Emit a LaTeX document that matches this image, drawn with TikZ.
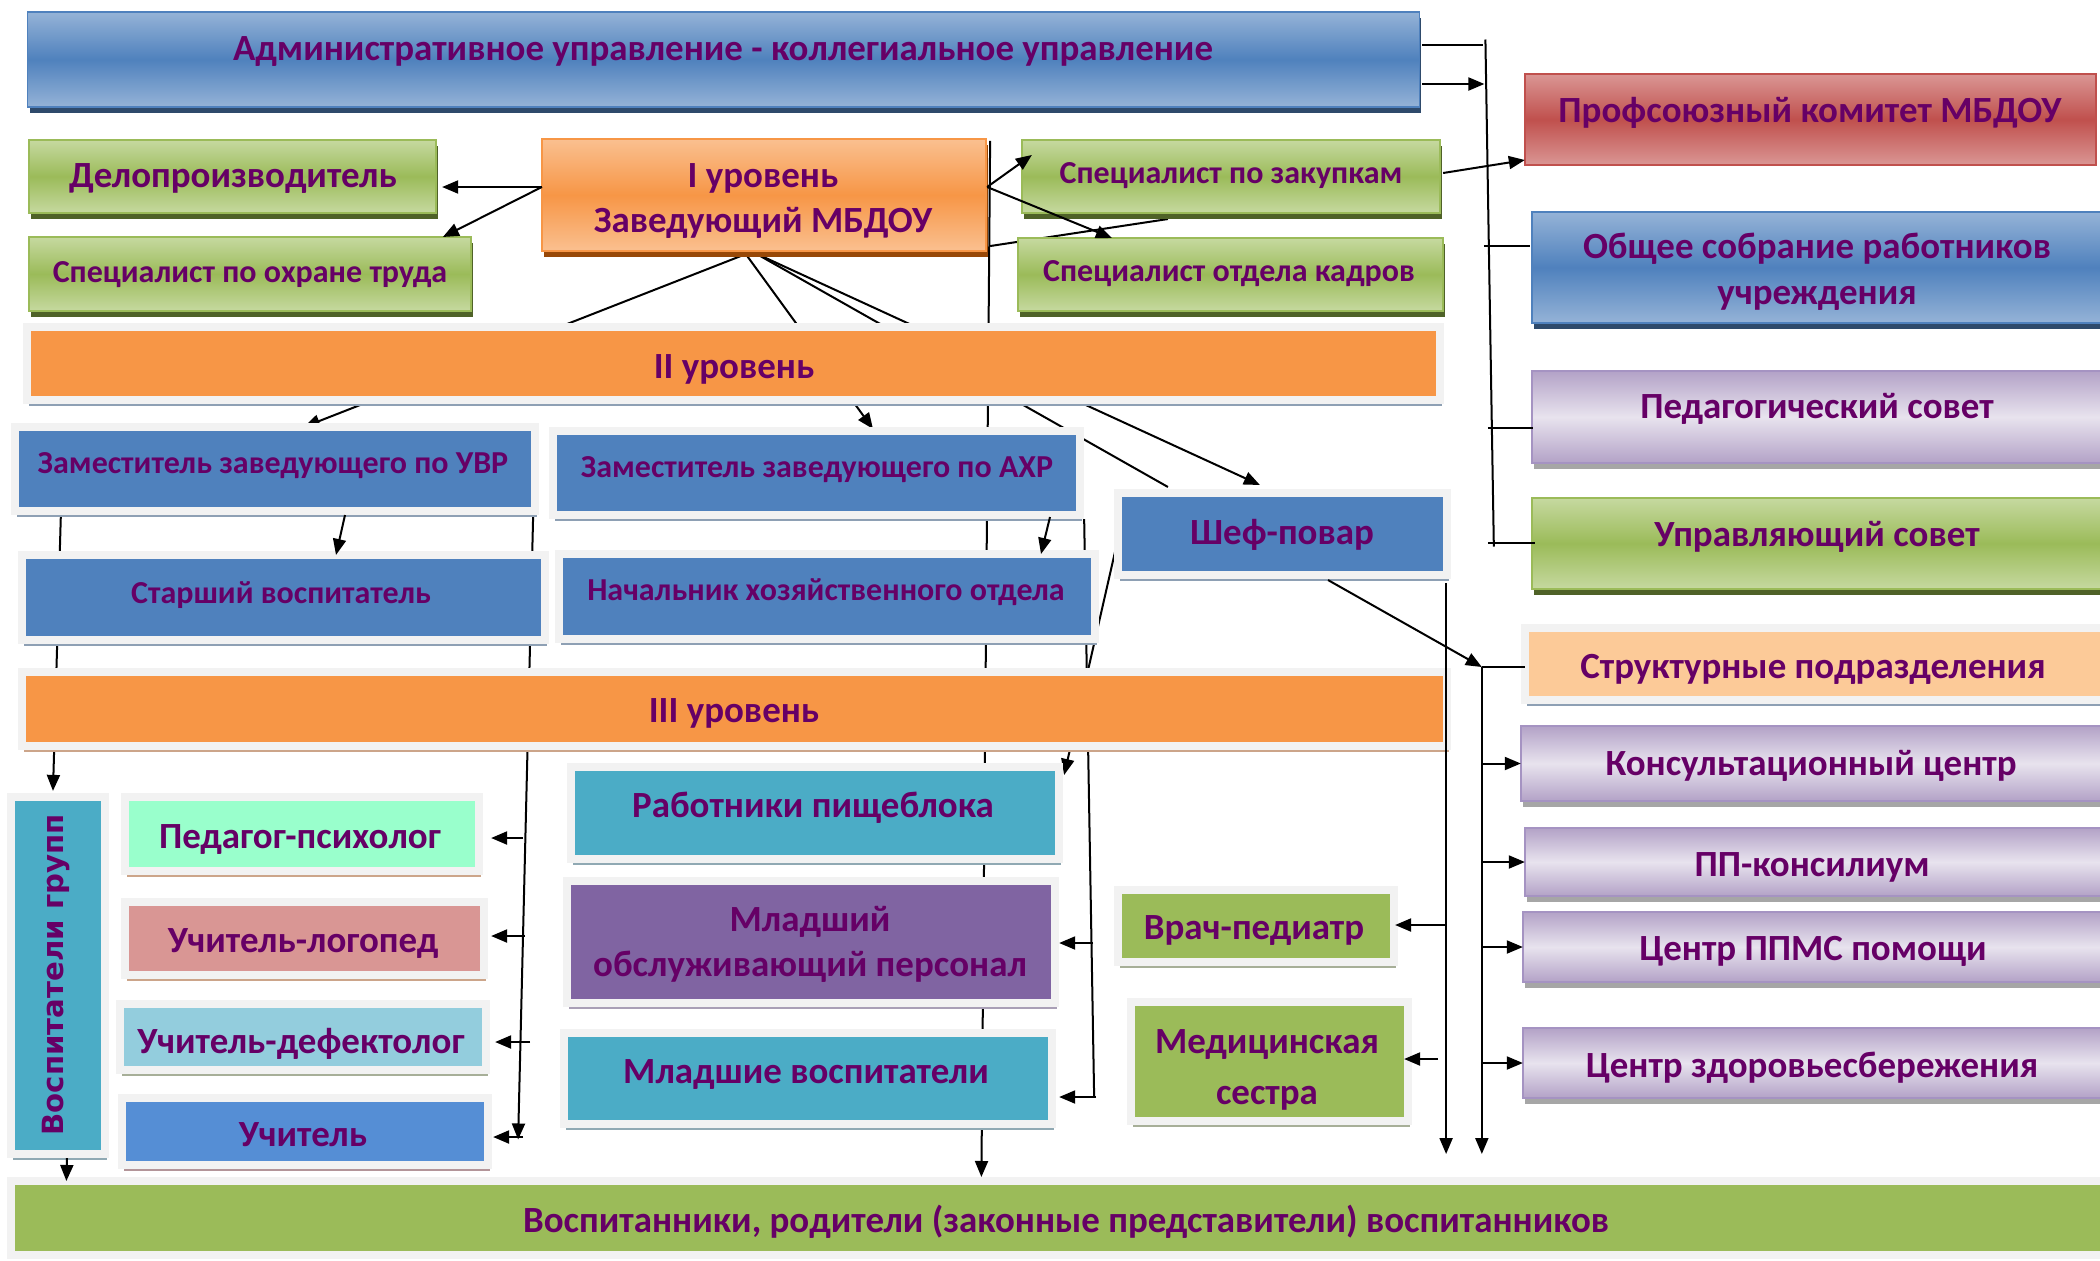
\documentclass[tikz,border=0pt]{standalone}
\usepackage{fontspec}
\setmainfont{Carlito}
\newfontfamily\vfont{DejaVu Sans}
\usetikzlibrary{calc,shadows,arrows.meta}
\definecolor{tc}{RGB}{102,0,102}
\definecolor{blueD}{HTML}{4F81BD}
\definecolor{blueL}{HTML}{95B3D7}
\definecolor{blueS}{HTML}{2E4A6B}
\definecolor{redD}{HTML}{C0504D}
\definecolor{redL}{HTML}{DA9694}
\definecolor{grnD}{HTML}{9BBB59}
\definecolor{grnL}{HTML}{C6D9A0}
\definecolor{grnS}{HTML}{4F6228}
\definecolor{orD}{HTML}{F79646}
\definecolor{orL}{HTML}{FAC090}
\definecolor{orS}{HTML}{984807}
\definecolor{purD}{HTML}{B3A2C7}
\definecolor{purL}{HTML}{E8E3EE}
\definecolor{purB}{HTML}{A593C2}
\definecolor{grayS}{HTML}{A6A6A6}
\definecolor{frm}{HTML}{F2F2F2}
\definecolor{shBlue}{HTML}{8EA0B4}
\definecolor{shBrown}{HTML}{CCA58A}
\definecolor{shTeal}{HTML}{90A9B3}
\definecolor{shOlive}{HTML}{A7AF98}
\definecolor{shMauve}{HTML}{B39599}
\definecolor{shViol}{HTML}{A99FB6}
\definecolor{tealF}{HTML}{4BACC6}
\definecolor{violF}{HTML}{8064A2}
\definecolor{mintF}{HTML}{99FFCC}
\definecolor{roseF}{HTML}{D99694}
\definecolor{lblueF}{HTML}{93CDDD}
\definecolor{mblueF}{HTML}{558ED5}
\definecolor{peachF}{HTML}{FCCA98}
\newcommand\fLg{\fontsize{10.5}{12.6}\selectfont\bfseries}
\newcommand\fSm{\fontsize{9.1}{11}\selectfont\bfseries}
\pgfdeclarelayer{paper}
\pgfdeclarelayer{bg}
\pgfsetlayers{paper,bg,main}
\tikzset{
  bx/.style={rectangle,inner sep=0pt,outer sep=0pt},
  gb/.style={bx,draw=#1,line width=0.015cm},
  fr/.style={bx,draw=frm,line width=0.08cm},
  shd/.style={drop shadow={shadow xshift=0.02cm,shadow yshift=-0.06cm,fill=#1,opacity=1}},
  vgrad/.style 2 args={top color=#1,bottom color=#1,middle color=#2},
  sz/.style 2 args={minimum width=#1cm,minimum height=#2cm},
  txt/.style={inner sep=0pt,outer sep=0pt,text=tc,anchor=mid,yshift=-0.04cm},
  arr/.style={line width=0.02cm,-{Triangle[length=0.16cm,width=0.13cm]}},
  ln/.style={line width=0.02cm},
}
\begin{document}
\begin{tikzpicture}[x=0.01cm,y=-0.01cm]
\useasboundingbox (0,0) rectangle (2100,1260);
\begin{pgfonlayer}{paper}
\fill[white] (0,0) rectangle (2100,1260);
\end{pgfonlayer}
% ---------- gradient boxes
\node[gb=blueD,vgrad={blueL}{blueD},shd=blueS,sz={13.91}{0.95}] (admin) at (723.5,59.5) {};
\node[gb=redD,vgrad={redL}{redD},sz={5.71}{0.91}] (prof) at (1810.5,119.5) {};
\node[gb=blueD,vgrad={blueL}{blueD},shd=blueS,sz={5.78}{1.11}] (obsh) at (1821,267.5) {};
\node[gb=purB,vgrad={purD}{purL},shd=grayS,sz={5.78}{0.92}] (ped) at (1821,417) {};
\node[gb=grnD,vgrad={grnL}{grnD},shd=grnS,sz={5.78}{0.91}] (upr) at (1821,543.5) {};
\node[gb=grnD,vgrad={grnL}{grnD},shd=grnS,sz={4.07}{0.73}] (delo) at (232.5,176.5) {};
\node[gb=grnD,vgrad={grnL}{grnD},shd=grnS,sz={4.42}{0.74}] (ohr) at (250,274) {};
\node[gb=orD,vgrad={orL}{orD},shd=orS,sz={4.44}{1.12}] (zav) at (764,195) {};
\node[gb=grnD,vgrad={grnL}{grnD},shd=grnS,sz={4.18}{0.73}] (zak) at (1231,176.5) {};
\node[gb=grnD,vgrad={grnL}{grnD},shd=grnS,sz={4.25}{0.73}] (kadr) at (1230.5,274.5) {};
\node[gb=purB,vgrad={purD}{purL},shd=grayS,sz={5.89}{0.75}] (kons) at (1815.5,763.5) {};
\node[gb=purB,vgrad={purD}{purL},shd=grayS,sz={5.85}{0.68}] (pp) at (1817.5,862) {};
\node[gb=purB,vgrad={purD}{purL},shd=grayS,sz={5.87}{0.70}] (ppms) at (1816.5,947) {};
\node[gb=purB,vgrad={purD}{purL},shd=grayS,sz={5.87}{0.70}] (zdor) at (1816.5,1063) {};
% ---------- framed boxes
\node[fr,fill=orD,shd=shBlue,sz={14.13}{0.73}] (lvl2) at (733.5,363.5) {};
\node[fr,fill=blueD,shd=shBlue,sz={5.20}{0.84}] (uvr) at (275,469) {};
\node[fr,fill=blueD,shd=shBlue,sz={5.27}{0.84}] (ahr) at (816.5,473) {};
\node[fr,fill=blueD,shd=shBlue,sz={3.29}{0.82}] (chef) at (1282.5,534) {};
\node[fr,fill=blueD,shd=shBlue,sz={5.23}{0.85}] (star) at (283.5,597.5) {};
\node[fr,fill=blueD,shd=shBlue,sz={5.36}{0.85}] (nach) at (827,596.5) {};
\node[fr,fill=orD,shd=shBrown,sz={14.25}{0.74}] (lvl3) at (734.5,709) {};
\node[fr,fill=peachF,shd=shBlue,sz={5.81}{0.72}] (strukt) at (1815.5,664) {};
\node[fr,fill=tealF,shd=shTeal,sz={0.94}{3.57}] (vosp) at (58,975.5) {};
\node[fr,fill=mintF,shd=shBrown,sz={3.54}{0.74}] (psy) at (302,834) {};
\node[fr,fill=roseF,shd=shBrown,sz={3.59}{0.73}] (log) at (304.5,938.5) {};
\node[fr,fill=lblueF,shd=shOlive,sz={3.66}{0.66}] (def) at (303,1037) {};
\node[fr,fill=mblueF,shd=shMauve,sz={3.66}{0.67}] (uch) at (305,1131.5) {};
\node[fr,fill=tealF,shd=shTeal,sz={4.88}{0.92}] (pish) at (815,813) {};
\node[fr,fill=violF,shd=shViol,sz={4.88}{1.22}] (mlob) at (811,942) {};
\node[fr,fill=tealF,shd=shTeal,sz={4.88}{0.91}] (mlv) at (808,1078.5) {};
\node[fr,fill=grnD,shd=shOlive,sz={2.76}{0.72}] (vrach) at (1256,926) {};
\node[fr,fill=grnD,shd=shOlive,sz={2.77}{1.19}] (med) at (1269.5,1061.5) {};
\node[fr,fill=grnD,sz={21.02}{0.74}] (vospit) at (1063,1218) {};
% ---------- texts
\node[txt,font=\fLg] (t1) at (723,48) {Административное управление - коллегиальное управление};
\node[txt,font=\fLg] (t2) at (1810,110) {Профсоюзный комитет МБДОУ};
\node[txt,font=\fLg] (t3a) at (1817,246) {Общее собрание работников};
\node[txt,font=\fLg] (t3b) at (1817,292) {учреждения};
\node[txt,font=\fLg] (t4) at (1817,406) {Педагогический совет};
\node[txt,font=\fLg] (t5) at (1817,534) {Управляющий совет};
\node[txt,font=\fLg] (t6) at (233,175) {Делопроизводитель};
\node[txt,font=\fSm] (t7) at (250,270) {Специалист по охране труда};
\node[txt,font=\fLg] (t8a) at (763,175) {I уровень};
\node[txt,font=\fLg] (t8b) at (763,220) {Заведующий МБДОУ};
\node[txt,font=\fSm] (t9) at (1231,171) {Специалист по закупкам};
\node[txt,font=\fSm] (t10) at (1229,269) {Специалист отдела кадров};
\node[txt,font=\fLg] (t11) at (734,366) {II уровень};
\node[txt,font=\fSm] (t12) at (273,461) {Заместитель заведующего по УВР};
\node[txt,font=\fSm] (t13) at (817,465) {Заместитель заведующего по АХР};
\node[txt,font=\fLg] (t14) at (1282,532) {Шеф-повар};
\node[txt,font=\fSm] (t15) at (281,591) {Старший воспитатель};
\node[txt,font=\fSm] (t16) at (826,588) {Начальник хозяйственного отдела};
\node[txt,font=\fLg] (t17) at (1813,666) {Структурные подразделения};
\node[txt,font=\fLg] (t18) at (734,710) {III уровень};
\node[txt,font=\fLg] (t19) at (1811,763) {Консультационный центр};
\node[txt,font=\fLg] (t20) at (813,805) {Работники пищеблока};
\node[txt,font=\fLg] (t21) at (300,836) {Педагог-психолог};
\node[txt,font=\fLg] (t22) at (1812,864) {ПП-консилиум};
\node[txt,font=\fLg] (t23a) at (810,919) {Младший};
\node[txt,font=\fLg] (t23b) at (810,964) {обслуживающий персонал};
\node[txt,font=\fLg] (t24) at (1254,927) {Врач-педиатр};
\node[txt,font=\fLg] (t25) at (303,940) {Учитель-логопед};
\node[txt,font=\fLg] (t26) at (1813,948) {Центр ППМС помощи};
\node[txt,font=\fLg] (t27a) at (1267,1041) {Медицинская};
\node[txt,font=\fLg] (t27b) at (1267,1092) {сестра};
\node[txt,font=\fLg] (t28) at (301,1041) {Учитель-дефектолог};
\node[txt,font=\fLg] (t29) at (1812,1065) {Центр здоровьесбережения};
\node[txt,font=\fLg] (t30) at (806,1071) {Младшие воспитатели};
\node[txt,font=\fLg] (t31) at (303,1134) {Учитель};
\node[txt,font=\fLg] (t32) at (1066,1220) {Воспитанники, родители (законные представители) воспитанников};
\node[inner sep=0pt,text=tc,font={\vfont\bfseries\fontsize{8.3}{9}\selectfont},rotate=90] (t33) at (56,975) {Воспитатели групп};
% ---------- coordinates
\coordinate (sj) at ($(strukt.west)+(-43,3)$);
\coordinate (sbot) at ($(sj)+(0,487)$);
\coordinate (vt) at ($(admin.east)+(66,-20)$);
\coordinate (vb) at ($(upr.west)+(-38,3)$);
% ---------- connectors behind boxes
\begin{pgfonlayer}{bg}
\draw[arr] ($(zav.north east)+(4,2)$) -- ($(vospit.north west)+(970,-4)$);
\draw[arr] ($(zav.south)+(-13,1)$) -- ($(uvr.north)+(29,0)$);
\draw[arr] ($(zav.south)+(-19,2)$) -- ($(ahr.north)+(56.5,-2)$);
\draw[ln] ($(zav.south)+(-9,2)$) -- ($(chef.north west)+(50,-6)$);
\draw[arr] ($(zav.south)+(-9,2)$) -- ($(chef.north west)+(142,-8)$);
\draw[arr] ($(uvr.south west)+(46,4)$) -- ($(vosp.north west)+(42,-6)$);
\draw[arr] ($(uvr.south east)+(-2,4)$) -- ($(uch.east)+(30,8)$);
\draw[ln] ($(ahr.south east)+(4,4)$) -- ($(mlv.east)+(42,18.5)$);
\draw[arr] ($(chef.west)+(3,-8)$) -- ($(pish.north east)+(5,8)$);
\draw[ln] ($(zav.south east)+(4,-5)$) -- ($(zak.south west)+(146,6)$);
\end{pgfonlayer}
% ---------- connectors on top
\draw[arr] ($(zav.west)+(0,-8)$) -- ($(delo.east)+(6,10.5)$);
\draw[arr] ($(zav.west)+(0,-8)$) -- ($(ohr.north west)+(414,0)$);
\draw[arr] ($(zav.east)+(1,-8)$) -- ($(zak.north west)+(10,15)$);
\draw[arr] ($(zav.east)+(1,-8)$) -- ($(kadr.north west)+(94,0)$);
\draw[arr] ($(uvr.south)+(70,4)$) -- ($(star.north)+(52.5,0)$);
\draw[arr] ($(ahr.south)+(233.5,2)$) -- ($(nach.north)+(214,0)$);
\draw[arr] ($(psy.east)+(44,4)$) -- ($(psy.east)+(12,4)$);
\draw[arr] ($(log.east)+(41,-2.5)$) -- ($(log.east)+(7,-2.5)$);
\draw[arr] ($(def.east)+(44,5)$) -- ($(def.east)+(9,5)$);
\draw[arr] ($(uch.east)+(35,5.5)$) -- ($(uch.east)+(5,5.5)$);
\draw[arr] ($(mlob.east)+(38,1)$) -- ($(mlob.east)+(4,1)$);
\draw[arr] ($(mlv.east)+(44,18.5)$) -- ($(mlv.east)+(7,18.5)$);
\draw[arr] ($(chef.south)+(45.5,5)$) -- (sj);
\draw[arr] (sj) -- (sbot);
\draw[ln] (sj) -- (sj -| strukt.west);
\draw[arr] (sj |- kons.west) -- (kons.west);
\draw[arr] (sj |- pp.west) -- (pp.west);
\draw[arr] (sj |- ppms.west) -- (ppms.west);
\draw[arr] (sj |- zdor.west) -- (zdor.west);
\draw[arr] ($(chef.south east)+(-1,8)$) -- ($(chef.south east)+(-1,579)$);
\draw[arr] ($(vrach.east)+(52,-1)$) -- ($(vrach.east)+(1,-1)$);
\draw[arr] ($(med.east)+(30,-2.5)$) -- ($(med.east)+(-4,-2.5)$);
\draw[arr] ($(vosp.south)+(9,4)$) -- ($(vospit.north west)+(55,0)$);
\draw[ln] ($(admin.east)+(3,-14.5)$) -- ($(admin.east)+(64,-14.5)$);
\draw[arr] ($(admin.east)+(3,24.5)$) -- ($(admin.east)+(65,24.5)$);
\draw[ln] (vt) -- (vb);
\draw[ln] ($(obsh.west)+(-48,-21.5)$) -- ($(obsh.west)+(-2,-21.5)$);
\draw[ln] ($(ped.west)+(-44,11)$) -- ($(ped.west)+(1,11)$);
\draw[ln] ($(upr.west)+(-44,-0.5)$) -- ($(upr.west)+(3,-0.5)$);
\draw[arr] ($(zak.east)+(3,-3.5)$) -- ($(prof.west)+(0,40.5)$);
\end{tikzpicture}
\end{document}
